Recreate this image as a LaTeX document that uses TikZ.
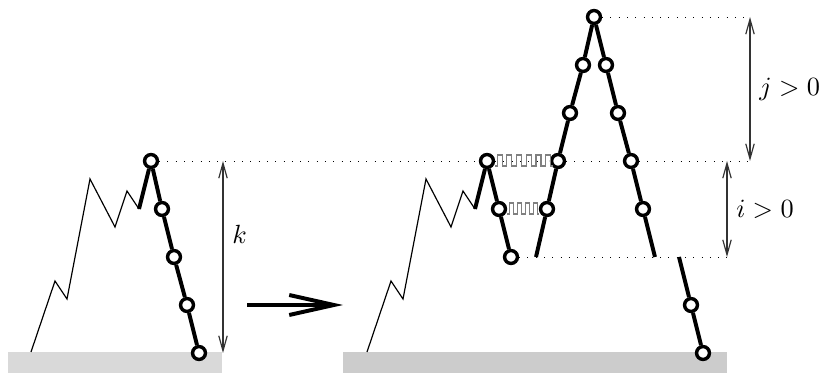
\documentclass[tikz,border=0pt]{standalone}
\usetikzlibrary{arrows.meta}
\begin{document}
\begin{tikzpicture}[x=0.38pt,y=-0.38pt,
   >={Straight Barb[length=5.7pt,width=3.2pt]},
   vtx/.style={circle,draw,fill=white,line width=1.3pt,inner sep=0pt,minimum size=4.9pt},
   heavy/.style={line width=1.5pt},
   slope/.style={line width=0.45pt},
   guide/.style={line width=0.35pt,dash pattern=on 0.35pt off 2.8pt},
   wave/.style={gray,line width=0.45pt},
   meas/.style={<->,black!80,line width=0.45pt}]
  \useasboundingbox (0,0) rectangle (820,373);
  \fill[gray!30] (8,352) rectangle (222,373);
  \fill[gray!40] (343,352) rectangle (727,373);

  \node[vtx] (L0) at (151,161) {};
  \node[vtx] (L1) at (162,209) {};
  \node[vtx] (L2) at (174,257) {};
  \node[vtx] (L3) at (187,305) {};
  \node[vtx] (L4) at (199,353) {};
  \coordinate (Lm) at (139,209);
  \draw[slope] (31,352) -- (55,281) -- (67,299) -- (90,179) -- (115,227) -- (127,191) -- (Lm);
  \draw[heavy] (Lm) -- (L0) -- (L1) -- (L2) -- (L3) -- (L4);

  \node[vtx] (R0) at (487,161) {};
  \node[vtx] (R1) at (499,209) {};
  \node[vtx] (R2) at (511,257) {};
  \coordinate (Rm) at (475,209);
  \draw[slope] (367,352) -- (391,281) -- (403,299) -- (426,179) -- (451,227) -- (463,191) -- (Rm);
  \draw[heavy] (Rm) -- (R0) -- (R1) -- (R2);

  \node[vtx] (T) at (594,17) {};
  \node[vtx] (A1) at (583,65) {};
  \node[vtx] (A2) at (570,113) {};
  \node[vtx] (A3) at (558,161) {};
  \node[vtx] (A4) at (547,209) {};
  \coordinate (a5) at (536,257);
  \node[vtx] (B1) at (606,65) {};
  \node[vtx] (B2) at (618,113) {};
  \node[vtx] (B3) at (631,161) {};
  \node[vtx] (B4) at (643,209) {};
  \coordinate (b5) at (655,257);
  \coordinate (c0) at (679,257);
  \node[vtx] (C1) at (691,305) {};
  \node[vtx] (C2) at (703,353) {};
  \draw[heavy] (a5) -- (A4) -- (A3) -- (A2) -- (A1) -- (T) -- (B1) -- (B2) -- (B3) -- (B4) -- (b5);
  \draw[heavy] (c0) -- (C1) -- (C2);

  \coordinate (kt) at (223,161);
  \coordinate (kb) at (223,353);
  \coordinate (jt) at (750,17);
  \coordinate (jb) at (750,161);
  \coordinate (it) at (727,161);
  \coordinate (ib) at (727,257);
  \draw[guide] (L0) -- (R0);
  \draw[guide] (R0) -- (A3);
  \draw[guide] (A3) -- (B3);
  \draw[guide] (B3) -- (jb);
  \draw[guide] (T) -- (jt);
  \draw[guide] (R2) -- (ib);

  \draw[wave] (R0.east) ++(0,5) foreach \n in {1,...,6}{ -- ++(2,0) -- ++(0,-11) -- ++(5,0) -- ++(0,11) -- ++(2.7,0)};
  \draw[wave] (R1.east) ++(0,5) foreach \n in {1,...,4}{ -- ++(2,0) -- ++(0,-11) -- ++(4,0) -- ++(0,11) -- ++(2,0)};

  \draw[meas] (kt) -- node[right,pos=0.38,black] (klab) {$k$} (kb);
  \draw[meas] (jt) -- node[right,black] (jlab) {$j>0$} (jb);
  \draw[meas] (it) -- node[right,black] (ilab) {$i>0$} (ib);

  \coordinate (g0) at (247,305);
  \coordinate (g1) at (343,305);
  \draw[line width=1.5pt,-{Straight Barb[length=17pt,width=7.6pt]}] (g0) -- (g1);
\end{tikzpicture}
\end{document}
